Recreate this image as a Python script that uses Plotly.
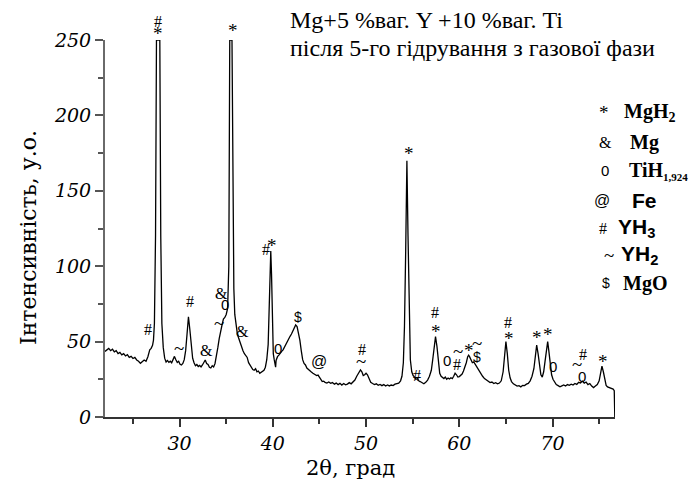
import plotly.graph_objects as go

# ---------------- data ----------------
two_theta = [
    22.0, 22.2, 22.4, 22.6, 22.8, 23.0, 23.2, 23.4, 23.6, 23.8, 24.0, 24.2, 24.4, 24.6, 24.8,
    25.0, 25.2, 25.4, 25.6, 25.8, 26.0, 26.2, 26.4, 26.6, 26.8, 26.95, 27.1, 27.2, 27.3, 27.42,
    27.52, 27.88, 27.98, 28.1, 28.25, 28.4, 28.55, 28.7, 28.85, 29.0, 29.15, 29.3, 29.45, 29.6,
    29.75, 29.9, 30.05, 30.2, 30.35, 30.5, 30.65, 30.8, 30.95, 31.1, 31.25, 31.4, 31.55, 31.7,
    31.85, 32.0, 32.15, 32.3, 32.45, 32.6, 32.75, 32.9, 33.05, 33.2, 33.35, 33.5, 33.65, 33.8,
    33.95, 34.1, 34.25, 34.4, 34.55, 34.7, 34.85, 35.0, 35.15, 35.28, 35.38, 35.62, 35.72, 35.82,
    35.92, 36.0, 36.1, 36.2, 36.35, 36.5, 36.65, 36.8, 36.95, 37.1, 37.25, 37.4, 37.55, 37.7,
    37.85, 38.0, 38.15, 38.3, 38.45, 38.6, 38.75, 38.9, 39.05, 39.2, 39.35, 39.5, 39.6, 39.7,
    39.78, 39.86, 39.95, 40.05, 40.15, 40.25, 40.3, 40.35, 40.5, 40.65, 40.8, 40.95, 41.1, 41.25,
    41.4, 41.55, 41.7, 41.85, 42.0, 42.15, 42.3, 42.45, 42.6, 42.75, 42.9, 43.05, 43.2, 43.35,
    43.5, 43.65, 43.8, 43.95, 44.1, 44.3, 44.5, 44.7, 44.85, 45.0, 45.15, 45.3, 45.45, 45.6,
    45.8, 46.0, 46.2, 46.4, 46.6, 46.8, 47.0, 47.2, 47.4, 47.6, 47.8, 48.0, 48.2, 48.4, 48.6,
    48.8, 49.0, 49.2, 49.4, 49.55, 49.7, 49.85, 50.0, 50.15, 50.3, 50.5, 50.7, 50.9, 51.1, 51.3,
    51.5, 51.7, 51.9, 52.1, 52.3, 52.5, 52.7, 52.9, 53.1, 53.3, 53.5, 53.7, 53.85, 54.0, 54.12,
    54.25, 54.38, 54.5, 54.62, 54.75, 54.9, 55.05, 55.2, 55.35, 55.5, 55.65, 55.8, 56.0, 56.2,
    56.4, 56.6, 56.8, 57.0, 57.15, 57.3, 57.45, 57.6, 57.75, 57.9, 58.05, 58.2, 58.35, 58.5,
    58.65, 58.8, 58.95, 59.1, 59.25, 59.4, 59.55, 59.7, 59.85, 60.0, 60.15, 60.3, 60.45, 60.6,
    60.75, 60.9, 61.0, 61.1, 61.25, 61.4, 61.55, 61.7, 61.85, 62.0, 62.15, 62.3, 62.5, 62.7,
    62.9, 63.1, 63.3, 63.5, 63.7, 63.9, 64.1, 64.3, 64.5, 64.7, 64.85, 65.0, 65.15, 65.3, 65.45,
    65.6, 65.8, 66.0, 66.2, 66.4, 66.6, 66.8, 67.0, 67.2, 67.4, 67.6, 67.8, 68.0, 68.15, 68.3,
    68.45, 68.6, 68.75, 68.9, 69.05, 69.2, 69.35, 69.48, 69.6, 69.75, 69.9, 70.05, 70.2, 70.4,
    70.6, 70.8, 71.0, 71.2, 71.4, 71.6, 71.8, 72.0, 72.2, 72.4, 72.6, 72.8, 73.0, 73.2, 73.4,
    73.6, 73.8, 74.0, 74.2, 74.4, 74.6, 74.8, 75.0, 75.15, 75.3, 75.45, 75.6, 75.75, 75.9, 76.1,
    76.3, 76.5, 76.62, 76.68,
]
intensity = [
    43.5, 44.5, 45.5, 44.0, 45.0, 43.2, 44.0, 42.0, 42.8, 41.2, 42.0, 40.5, 41.3, 39.5, 40.2,
    38.8, 39.5, 37.8, 37.0, 35.6, 36.5, 37.8, 37.0, 40.0, 44.5, 45.5, 47.5, 51.0, 62.0, 120.0,
    250.0, 250.0, 120.0, 62.0, 46.0, 39.0, 36.5, 37.5, 36.2, 37.0, 36.0, 38.5, 40.2, 38.0,
    36.2, 37.0, 35.0, 34.5, 35.5, 38.0, 44.0, 55.0, 66.5, 58.0, 46.0, 39.0, 36.0, 34.0,
    34.8, 33.5, 34.2, 33.2, 34.5, 36.0, 37.8, 35.5, 34.8, 33.0, 32.5, 34.0, 33.2, 35.5,
    40.0, 46.0, 52.0, 57.5, 61.0, 65.0, 66.0, 68.0, 72.0, 100.0, 250.0, 250.0, 140.0, 85.0,
    68.0, 64.0, 58.0, 55.0, 52.0, 49.0, 46.0, 44.0, 42.0, 40.5, 39.5, 36.0, 34.5, 33.0,
    31.5, 31.0, 32.0, 30.0, 30.5, 29.0, 29.5, 30.0, 31.0, 33.0, 38.0, 48.0, 70.0, 100.0,
    110.0, 95.0, 60.0, 42.0, 38.0, 35.5, 33.0, 37.5, 40.0, 41.0, 42.5, 43.5, 44.5, 46.5,
    48.0, 50.0, 52.0, 53.5, 55.0, 57.0, 59.0, 61.0, 60.0, 56.0, 51.0, 44.0, 38.0, 35.5,
    34.5, 32.5, 31.5, 30.5, 30.0, 29.0, 28.5, 27.5, 27.8, 26.0, 25.0, 23.5, 23.8, 23.0,
    22.5, 23.2, 22.3, 22.8, 21.8, 22.5, 21.5, 22.3, 21.2, 22.2, 21.3, 21.8, 22.8, 22.0, 23.5,
    24.5, 27.0, 29.5, 31.2, 30.0, 27.5, 28.0, 29.0, 28.0, 25.5, 23.0, 22.2, 21.5, 22.0, 21.0,
    21.6, 20.8, 21.5, 20.5, 21.2, 20.6, 21.2, 20.8, 21.8, 22.0, 22.5, 24.0, 27.0, 36.0, 60.0,
    110.0, 170.0, 120.0, 65.0, 38.0, 30.0, 27.5, 26.5, 25.0, 25.5, 24.0, 23.5, 22.5, 22.0,
    23.0, 24.5, 27.0, 31.0, 38.0, 47.0, 53.3, 47.0, 35.0, 29.0, 27.0, 26.5, 25.5, 26.5,
    25.0, 25.8, 25.2, 26.0, 25.5, 27.0, 29.0, 28.0, 26.5, 26.8, 27.5, 28.5, 30.5, 33.0,
    36.0, 40.0, 41.0, 40.0, 37.5, 36.0, 36.5, 35.0, 33.5, 32.0, 30.5, 28.5, 27.0, 25.5,
    24.5, 23.5, 22.8, 23.2, 22.2, 22.8, 22.0, 22.5, 24.0, 30.0, 40.0, 50.0, 42.0, 31.0, 26.0,
    23.5, 22.0, 21.2, 20.5, 20.8, 20.0, 21.0, 20.8, 21.8, 22.3, 24.0, 27.0, 32.0, 40.0, 47.7,
    42.0, 33.0, 28.0, 26.5, 30.0, 37.0, 46.0, 50.0, 44.0, 35.0, 28.0, 25.0, 23.0, 21.5,
    20.8, 20.0, 20.6, 21.2, 20.5, 21.5, 21.0, 21.8, 21.2, 22.2, 21.6, 23.0, 22.5, 23.8, 22.5,
    23.2, 21.5, 22.2, 20.5, 19.5, 20.5, 21.5, 24.0, 28.0, 33.8, 30.0, 24.0, 21.0, 20.0, 19.5,
    18.8, 18.5, 17.5, 0.0,
]

# phase marks written over the peaks
mark_text = ["#", "#", "*", "~", "#", "&", "~", "&", "0", "*", "&", "#", "*", "0", "$", "@",
             "#", "~", "*", "#", "#", "*", "0", "~", "#", "*", "~", "$", "#", "*", "*", "*",
             "0", "~", "#", "0", "*"]
mark_x = [26.65, 27.65, 27.7, 29.9, 31.07, 32.9, 34.2, 34.5, 34.9, 35.7, 36.7, 39.25, 39.9,
          40.6, 42.65, 44.9, 49.55, 49.45, 54.65, 55.5, 57.35, 57.5, 58.7, 59.9, 59.7, 61.0,
          61.9, 61.9, 65.2, 65.3, 68.3, 69.55, 70.1, 72.65, 73.3, 73.2, 75.45]
mark_y = [57.7, 262.0, 254.0, 45.5, 76.5, 44.4, 62.0, 82.0, 74.3, 256.0, 56.6, 111.0, 114.0,
          45.5, 66.5, 36.7, 45.0, 37.0, 175.0, 27.8, 69.5, 56.5, 37.8, 43.2, 34.5, 43.8,
          48.7, 39.5, 62.5, 52.0, 53.0, 54.8, 33.4, 34.5, 41.5, 26.7, 37.0]

x_major = [30, 40, 50, 60, 70]
x_minor = [25, 35, 45, 55, 65, 75]
y_major = [0, 50, 100, 150, 200, 250]
y_minor = [25, 75, 125, 175, 225]

legend_marks = ["*", "&", "0", "@", "#", "~", "$"]
legend_names = ["<b>MgH<sub>2</sub></b>", "<b>Mg</b>",
                "<b>TiH<sub><span style=\"font-size:11px\">1,924</span></sub></b>", "<b>Fe</b>",
                "<b>YH<sub>3</sub></b>", "<b>YH<sub>2</sub></b>", "<b>MgO</b>"]
legend_serif = [True, True, True, False, False, False, True]

title_lines = ["Mg+5 %ваг. Y +10 %ваг. Ti", "після 5-го гідрування з газової фази"]

# ---------------- layout geometry ----------------
W, H = 694, 485
L, R, T, B = 105, 79, 40, 68
PW, PH = W - L - R, H - T - B
Y_TOP = 250


def px(xp):
    return (xp - L) / PW


def py(yp):
    return (H - B - yp) / PH


SERIF = "Liberation Serif"
SANS = "Liberation Sans"
MARK_FONT = {"0": (SANS, 15), "$": (SANS, 14), "@": (SANS, 16), "*": (SERIF, 19),
             "~": (SERIF, 19), "#": (SERIF, 16), "&": (SERIF, 16)}

fig = go.Figure()
fig.add_trace(go.Scatter(
    x=two_theta, y=intensity, mode="lines",
    line=dict(color="black", width=1.3), hoverinfo="skip",
))

axis_common = dict(
    showline=True, linewidth=2, ticks="outside", ticklen=8,
    tickwidth=1.5, showgrid=False, zeroline=False, mirror=False,
    tickfont=dict(family="DejaVu Serif", size=19, style="italic", color="black"),
)
fig.update_xaxes(range=[22, 76.7], tickmode="array", tickvals=x_major,
                 linecolor="#333333", tickcolor="#333333",
                 minor=dict(tickmode="array", tickvals=x_minor, ticks="outside", ticklen=5,
                            tickwidth=1.5, tickcolor="#333333", showgrid=False),
                 **axis_common)
fig.update_yaxes(range=[0, Y_TOP], tickmode="array", tickvals=y_major,
                 linecolor="#6a6a6a", tickcolor="#555555",
                 minor=dict(tickmode="array", tickvals=y_minor, ticks="outside", ticklen=5,
                            tickwidth=1.5, tickcolor="#555555", showgrid=False),
                 **axis_common)

ann = []
# phase marks over peaks (marks above the axis top are shifted up in pixels)
for t, xv, yv in zip(mark_text, mark_x, mark_y):
    fam, size = MARK_FONT[t]
    y_in = min(yv, Y_TOP)
    ann.append(dict(text=t, x=xv, y=y_in, xref="x", yref="y", showarrow=False,
                    xanchor="center", yanchor="middle", borderpad=0,
                    yshift=(yv - y_in) * PH / Y_TOP,
                    font=dict(family=fam, size=size, color="black")))
# axis titles
ann.append(dict(text="Інтенсивність, у.о.", x=px(29), y=py(238), xref="paper", yref="paper",
                textangle=-90, showarrow=False, xanchor="center", yanchor="middle",
                font=dict(family="DejaVu Serif", size=22, color="black")))
ann.append(dict(text="2θ, град", x=px(350), y=py(468), xref="paper", yref="paper",
                showarrow=False, xanchor="center", yanchor="middle",
                font=dict(family="DejaVu Serif", size=21, color="black")))
# sample description
for i, line in enumerate(title_lines):
    ann.append(dict(text=line, x=px(288), y=py(20 + 28 * i), xref="paper", yref="paper",
                    showarrow=False, xanchor="left", yanchor="middle",
                    font=dict(family=SERIF, size=24, color="black")))
# phase legend
row_y = [113, 142, 171, 200, 228, 255, 283]
mark_px = [604, 605, 605, 602, 603, 609, 606]
name_px = [622, 628, 627, 630, 616, 619, 621]
for i, (m, n, s) in enumerate(zip(legend_marks, legend_names, legend_serif)):
    fam, size = MARK_FONT[m]
    ann.append(dict(text=m, x=px(mark_px[i]), y=py(row_y[i]), xref="paper", yref="paper",
                    showarrow=False, xanchor="center", yanchor="middle",
                    font=dict(family=fam, size=size, color="black")))
    ann.append(dict(text=n, x=px(name_px[i]), y=py(row_y[i]), xref="paper", yref="paper",
                    showarrow=False, xanchor="left", yanchor="middle",
                    font=dict(family=SERIF if s else SANS, size=20 if s else 21,
                              color="black")))

fig.update_layout(
    width=W, height=H, margin=dict(l=L, r=R, t=T, b=B),
    plot_bgcolor="white", paper_bgcolor="white", showlegend=False,
    annotations=ann,
)

fig.write_html("out.html")
